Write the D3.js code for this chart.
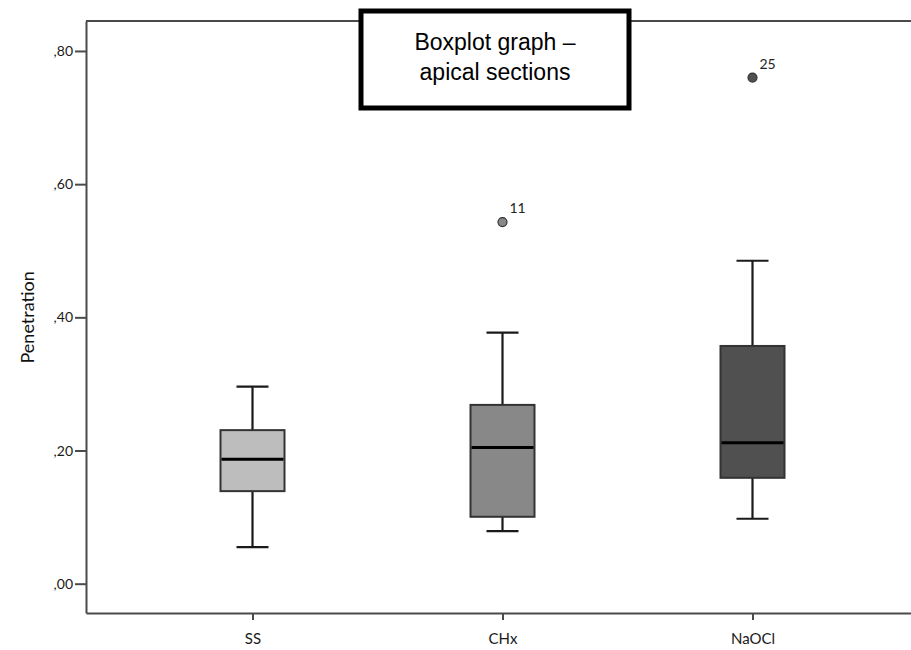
<!DOCTYPE html>
<html>
<head>
<meta charset="utf-8">
<script src="https://cdn.jsdelivr.net/npm/d3@7"></script>
<style>
  body { margin: 0; background: #fff; }
  svg { display: block; }
  .axis path, .axis line { stroke: #4a4a4a; stroke-width: 2; }
  .axis text { font-family: Lato, "DejaVu Sans", sans-serif; font-size: 14px; fill: #1a1a1a; }
  .x.axis text { font-size: 15px; }
</style>
</head>
<body>
<div id="chart"></div>
<script>
var width = 911;
var height = 650;

// data
var categories = ['SS', 'CHx', 'NaOCl'];
var whiskerLow = [0.055, 0.079, 0.0975];
var q1 = [0.139, 0.1005, 0.159];
var median = [0.187, 0.2045, 0.2115];
var q3 = [0.2306, 0.2685, 0.357];
var whiskerHigh = [0.296, 0.377, 0.485];
var boxColors = ['#bdbdbd', '#888888', '#505050'];

var outlierCats = ['CHx', 'NaOCl'];
var outlierValues = [0.543, 0.760];
var outlierIds = ['11', '25'];

var yTicks = [0, 0.2, 0.4, 0.6, 0.8];

var svg = d3.select('#chart')
    .append('svg')
    .attr('width', width)
    .attr('height', height);

// (not "top": that name is taken by window.top)
var plotLeft = 86, plotTop = 21, plotBottom = 613;

var x = d3.scalePoint().domain(categories).range([plotLeft, 919]).padding(0.666);
var y = d3.scaleLinear().domain([-0.044, 0.845]).range([plotBottom, plotTop]);

var yAxis = d3.axisLeft(y)
    .tickValues(yTicks)
    .tickSize(11)
    .tickSizeOuter(0)
    .tickPadding(2)
    .tickFormat(function(d) { return ',' + d3.format('.2f')(d).split('.')[1]; });

var xAxis = d3.axisBottom(x)
    .tickSize(7)
    .tickSizeOuter(0)
    .tickPadding(13);

svg.append('g')
    .attr('class', 'y axis')
    .attr('transform', 'translate(' + plotLeft + ',0)')
    .call(yAxis);

svg.append('g')
    .attr('class', 'x axis')
    .attr('transform', 'translate(0,' + plotBottom + ')')
    .call(xAxis);

// top frame line
svg.append('line')
    .attr('x1', plotLeft).attr('x2', width)
    .attr('y1', plotTop).attr('y2', plotTop)
    .attr('stroke', '#4a4a4a').attr('stroke-width', 2);

svg.append('text')
    .attr('transform', 'translate(34,' + y(0.4) + ') rotate(-90)')
    .attr('text-anchor', 'middle')
    .style('font-family', 'Lato, "DejaVu Sans", sans-serif')
    .style('font-size', '18px')
    .style('fill', '#111')
    .text('Penetration');

var boxW = 64, capW = 32;
var boxes = svg.selectAll('g.box')
    .data(categories)
    .enter()
    .append('g')
    .attr('class', 'box');

// whiskers
boxes.append('line')
    .attr('x1', function(d) { return x(d); })
    .attr('x2', function(d) { return x(d); })
    .attr('y1', function(d, i) { return y(whiskerLow[i]); })
    .attr('y2', function(d, i) { return y(whiskerHigh[i]); })
    .attr('stroke', '#1a1a1a').attr('stroke-width', 2.2);
boxes.append('line')
    .attr('x1', function(d) { return x(d) - capW / 2; })
    .attr('x2', function(d) { return x(d) + capW / 2; })
    .attr('y1', function(d, i) { return y(whiskerLow[i]); })
    .attr('y2', function(d, i) { return y(whiskerLow[i]); })
    .attr('stroke', '#1a1a1a').attr('stroke-width', 2.2);
boxes.append('line')
    .attr('x1', function(d) { return x(d) - capW / 2; })
    .attr('x2', function(d) { return x(d) + capW / 2; })
    .attr('y1', function(d, i) { return y(whiskerHigh[i]); })
    .attr('y2', function(d, i) { return y(whiskerHigh[i]); })
    .attr('stroke', '#1a1a1a').attr('stroke-width', 2.2);

boxes.append('rect')
    .attr('x', function(d) { return x(d) - boxW / 2; })
    .attr('width', boxW)
    .attr('y', function(d, i) { return y(q3[i]); })
    .attr('height', function(d, i) { return y(q1[i]) - y(q3[i]); })
    .attr('fill', function(d, i) { return boxColors[i]; })
    .attr('stroke', '#333').attr('stroke-width', 2);

boxes.append('line')
    .attr('x1', function(d) { return x(d) - boxW / 2 + 1; })
    .attr('x2', function(d) { return x(d) + boxW / 2 - 1; })
    .attr('y1', function(d, i) { return y(median[i]); })
    .attr('y2', function(d, i) { return y(median[i]); })
    .attr('stroke', '#000').attr('stroke-width', 3);

// outliers
var outs = svg.selectAll('g.outlier')
    .data(outlierValues)
    .enter()
    .append('g')
    .attr('class', 'outlier');
outs.append('circle')
    .attr('cx', function(d, i) { return x(outlierCats[i]); })
    .attr('cy', function(d) { return y(d); })
    .attr('r', 4.5)
    .attr('fill', function(d, i) { return boxColors[categories.indexOf(outlierCats[i])]; })
    .attr('stroke', '#333').attr('stroke-width', 1.2);
outs.append('text')
    .attr('x', function(d, i) { return x(outlierCats[i]) + 7; })
    .attr('y', function(d) { return y(d) - 9; })
    .style('font-family', 'Lato, "DejaVu Sans", sans-serif')
    .style('font-size', '14px')
    .style('fill', '#222')
    .text(function(d, i) { return outlierIds[i]; });

// title box
svg.append('rect')
    .attr('x', 361).attr('y', 11)
    .attr('width', 268).attr('height', 97)
    .attr('fill', '#fff')
    .attr('stroke', '#000').attr('stroke-width', 5);
var title = svg.append('text')
    .attr('text-anchor', 'middle')
    .style('font-family', '"Liberation Sans", Arial, sans-serif')
    .style('font-size', '23px')
    .style('fill', '#000');
title.append('tspan').attr('x', 495).attr('y', 50).text('Boxplot graph –');
title.append('tspan').attr('x', 495).attr('y', 80).text('apical sections');
</script>
</body>
</html>
